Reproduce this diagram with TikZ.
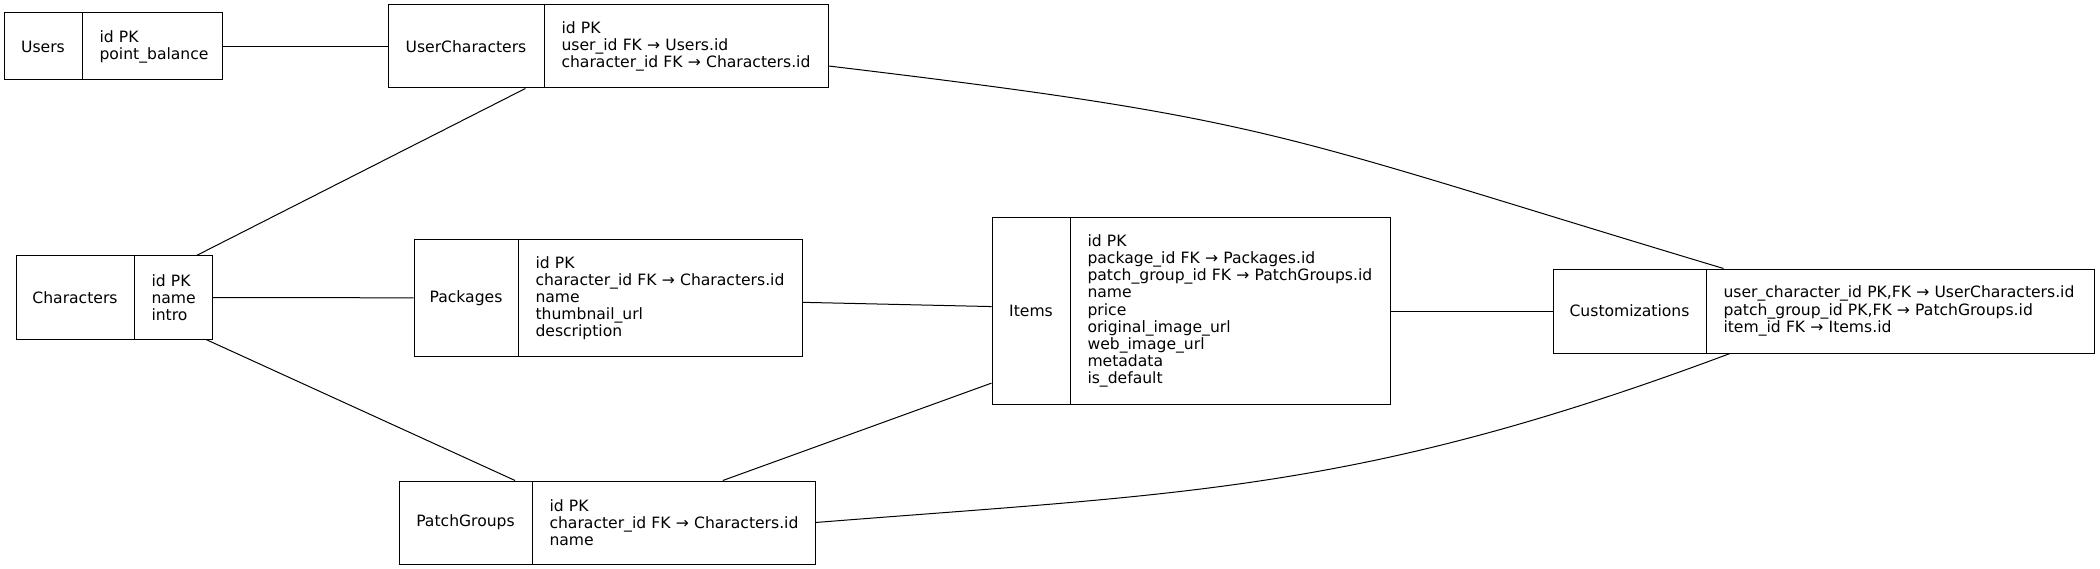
\documentclass[tikz,border=0pt]{standalone}
\usepackage{fontspec}
\setmainfont{DejaVu Sans}

\begin{document}
\begin{tikzpicture}[x=1pt, y=-1pt, line width=1pt,
    font=\fontsize{15.6}{17.1}\selectfont,
    tbl/.style={draw, rectangle, inner sep=0pt},
    title/.style={inner sep=0pt},
    fields/.style={inner sep=0pt, anchor=west, text width=380pt, align=left}]
    \useasboundingbox (0,0) rectangle (2100,569);
    \foreach \id/\xa/\ya/\xb/\yb/\xd/\title/\fields in {
        users/4/13/222/80/82/Users/{id PK\\point\_balance},
        userchars/388/5/828/88/544/UserCharacters/{id PK\\user\_id FK → Users.id\\character\_id FK → Characters.id},
        chars/16/256/212/339/134/Characters/{id PK\\name\\intro},
        packages/414/240/802/356/518/Packages/{id PK\\character\_id FK → Characters.id\\name\\thumbnail\_url\\description},
        items/992/218/1390/404/1070/Items/{id PK\\package\_id FK → Packages.id\\patch\_group\_id FK → PatchGroups.id\\name\\price\\original\_image\_url\\web\_image\_url\\metadata\\is\_default},
        custom/1553/269/2094/353/1706/Customizations/{user\_character\_id PK,FK → UserCharacters.id\\patch\_group\_id PK,FK → PatchGroups.id\\item\_id FK → Items.id},
        patchgroups/399/481/815/564/532/PatchGroups/{id PK\\character\_id FK → Characters.id\\name}} {
        \node[tbl, minimum width={(\xb-\xa)*1pt}, minimum height={(\yb-\ya)*1pt}] (\id) at ({(\xa+\xb)/2},{(\ya+\yb)/2}) {};
        \draw (\xd,\ya) -- (\xd,\yb);
        \node[title] (\id-title) at ({(\xa+\xd)/2},{(\ya+\yb)/2}) {\title};
        \node[fields] (\id-fields) at ({\xd+17},{(\ya+\yb)/2}) {\fields};
    }
    % relations
    \draw (users) -- (userchars);
    \draw (chars) -- (userchars);
    \draw (chars) -- (packages);
    \draw (chars) -- (patchgroups);
    \draw (packages) -- (items);
    \draw (patchgroups) -- (items);
    \draw (items) -- (custom);
    \draw ([yshift=-19.5pt]userchars.east) .. controls (1281,120) and (1272,133) .. ([xshift=-100pt]custom.north);
    \draw (patchgroups.east) .. controls (1187,493) and (1360,492) .. ([xshift=-93.5pt]custom.south);
\end{tikzpicture}
\end{document}
